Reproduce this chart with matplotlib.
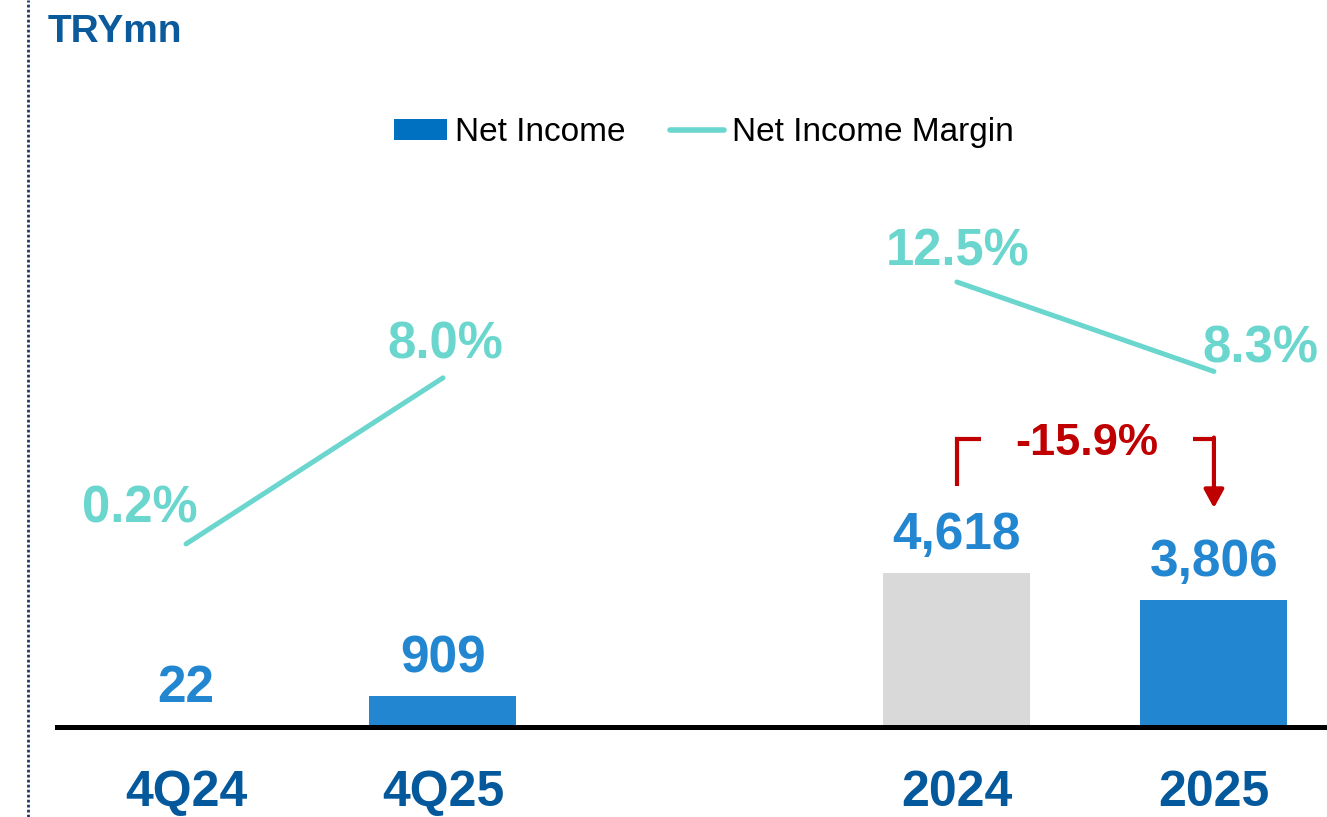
import matplotlib
matplotlib.use('Agg')
import matplotlib.pyplot as plt
from matplotlib.lines import Line2D
from matplotlib.patches import Patch

plt.rcParams['font.family'] = ['Liberation Sans', 'DejaVu Sans']

# --- data ---
periods = ['4Q24', '4Q25', '2024', '2025']
slots = [0, 1, 3, 4]                       # gap between quarterly and annual groups
net_income = [22, 909, 4618, 3806]         # TRYmn
margin_q = [0.2, 8.0]                      # % for 4Q24, 4Q25
margin_y = [12.5, 8.3]                     # % for 2024, 2025
change_label = '-15.9%'

# --- styles ---
BLUE = '#2287D0'
GREY = '#D9D9D9'
TEAL = '#6AD6CE'
NAVY = '#04599C'
RED = '#C00000'
bar_colors = [BLUE, BLUE, GREY, BLUE]
margin_offsets = [(-33.5, 15.1), (1.4, 13.7), (0.7, 12.2), (33.8, 6.5)]  # points

W, H = 1327, 817
fig = plt.figure(figsize=(W / 100, H / 100), dpi=100)
ax = fig.add_axes([57 / W, (H - 726.5) / H, (W - 57) / W, 726.5 / H])
ax2 = ax.twinx()

# bars
ax.bar(slots, net_income, width=0.572, color=bar_colors, zorder=2)
for x, v in zip(slots, net_income):
    ax.annotate(f'{v:,}', xy=(x, v), xytext=(0, 17.3), textcoords='offset points',
                ha='center', va='baseline', fontsize=37, fontweight='bold', color=BLUE)

ax.set_xlim(-0.502, 4.44)
ax.set_ylim(0, 21856)
ax.set_xticks(slots, periods)
ax.tick_params(axis='x', length=0, pad=31, labelsize=36, labelcolor=NAVY)
for lab in ax.get_xticklabels():
    lab.set_fontweight('bold')
ax.set_yticks([])
for s in ['top', 'left', 'right']:
    ax.spines[s].set_visible(False)
ax.spines['bottom'].set_linewidth(3.6)
ax.spines['bottom'].set_color('black')
ax.spines['bottom'].set_zorder(3)

# margin lines
ax2.plot(slots[:2], margin_q, color=TEAL, lw=3.6, solid_capstyle='round')
ax2.plot(slots[2:], margin_y, color=TEAL, lw=3.6, solid_capstyle='round')
for x, m, off in zip(slots, margin_q + margin_y, margin_offsets):
    ax2.annotate(f'{m:.1f}%', xy=(x, m), xytext=off, textcoords='offset points',
                 ha='center', va='baseline', fontsize=36.5, fontweight='bold', color=TEAL)
ax2.set_ylim(-8.37, 25.74)
ax2.set_yticks([])
for s in ax2.spines.values():
    s.set_visible(False)

# change bracket between 2024 and 2025
y_top = 8649
ax.plot([3, 3, 3.093], [7235, y_top, y_top], color=RED, lw=3,
        solid_joinstyle='miter', solid_capstyle='butt')
ax.plot([3.918, 4], [y_top, y_top], color=RED, lw=3,
        solid_joinstyle='miter', solid_capstyle='butt')
ax.annotate('', xy=(4, 6573), xytext=(4, y_top + 45),
            arrowprops=dict(arrowstyle='-|>,head_length=0.55,head_width=0.3',
                            mutation_scale=20, color=RED, lw=3,
                            shrinkA=0, shrinkB=0))
ax.text(3.506, 8168, change_label, ha='center', va='baseline',
        fontsize=32.5, fontweight='bold', color=RED)

# legend
handles = [Patch(facecolor='#0070C0', edgecolor='none'),
           Line2D([], [], color=TEAL, lw=4, solid_capstyle='round')]
fig.legend(handles, ['Net Income', 'Net Income Margin'], loc='center',
           bbox_to_anchor=(703.5 / W, 1 - 132.5 / H), ncol=2, frameon=False,
           fontsize=24, handlelength=1.6, handleheight=0.6,
           handletextpad=0.24, columnspacing=1.35)

# unit title and left dotted separator
fig.text(48 / W, 1 - 42 / H, 'TRYmn', ha='left', va='baseline',
         fontsize=28, fontweight='bold', color='#0B5A9B')
fig.add_artist(Line2D([28 / W, 28 / W], [0, 1], transform=fig.transFigure,
                      linestyle=(0, (1, 0.8)), color='#1F3864', lw=2.0))

fig.savefig('out.png', dpi=100)
